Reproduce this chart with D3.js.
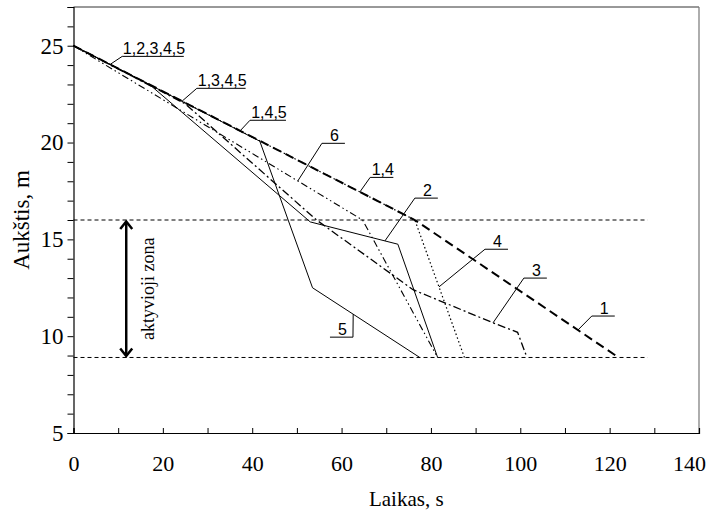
<!DOCTYPE html>
<html>
<head>
<meta charset="utf-8">
<script src="https://cdn.jsdelivr.net/npm/d3@7"></script>
<style>
  body { margin: 0; background: #fff; }
  svg { display: block; }
  .serif { font-family: "Liberation Serif", "Times New Roman", Times, "DejaVu Serif", serif; }
  .sans { font-family: "Liberation Sans", Arial, Helvetica, sans-serif; }
</style>
</head>
<body>
<div id="chart"></div>
<script>
// series: [time s, height m]
const line1 = [[0, 25], [76.4, 16.0], [122, 8.9]]
const line2 = [[0, 25], [17, 23.0], [53, 15.9], [72.6, 14.75], [81.5, 8.9]]
const line3 = [[0, 25], [25, 22.0], [54.4, 16.0], [76, 12.4], [93.8, 10.7], [99.4, 10.2], [101.5, 8.9]]
const line4 = [[0, 25], [76.4, 16.0], [87.5, 8.9]]
const line5 = [[0, 25], [41.7, 20.07], [53.5, 12.5], [77.5, 8.9]]
const line6 = [[0, 25], [64.7, 16.0], [81.5, 8.9]]

// active zone limits
const zoneTop = 16
const zoneBottom = 8.9
const zoneEnd = 128.5

const xTicks = [0, 10, 20, 30, 40, 50, 60, 70, 80, 90, 100, 110, 120, 130, 140]
const yTicks = [5, 6, 7, 8, 9, 10, 11, 12, 13, 14, 15, 16, 17, 18, 19, 20, 21, 22, 23, 24, 25, 26, 27]

// label text, series it points to, time of the tip, underline start (t, h)
const labelText = ['1,2,3,4,5', '1,3,4,5', '1,4,5', '6', '1,4', '2', '5', '4', '3', '1']
const labelSeries = [line1, line1, line1, line6, line1, line2, line5, line4, line3, line1]
const labelTipT = [8.2, 24.3, 37.3, 50.2, 64.1, 69.7, 62.6, 81.8, 93.9, 112.9]
const labelLineT = [10.9, 27.6, 39.5, 55.6, 66.4, 76.4, 57.4, 92.1, 100.8, 116.0]
const labelLineH = [24.45, 22.8, 21.15, 19.96, 18.2, 17.13, 9.95, 14.49, 13.0, 11.04]

const width = 714, height = 513

const svg = d3.select('#chart').append('svg')
    .attr('width', width)
    .attr('height', height)

//scales
const x = d3.scaleLinear().domain([0, 140]).range([73.5, 699])
const y = d3.scaleLinear().domain([5, 27]).range([433, 7])

//frame top + right
svg.append('line')
    .attr('x1', x(0)).attr('x2', x(140))
    .attr('y1', y(27)).attr('y2', y(27))
    .style('stroke', '#333').style('stroke-width', 1)
svg.append('line')
    .attr('x1', x(140)).attr('x2', x(140))
    .attr('y1', y(27)).attr('y2', y(5))
    .style('stroke', '#777').style('stroke-width', 1.2)

//x axis, ticks inward
const xAxis = d3.axisBottom(x)
    .tickValues(xTicks)
    .tickSize(-5)
    .tickPadding(22)
    .tickFormat(d => d % 20 === 0 ? d : '')
const gx = svg.append('g')
    .attr('transform', `translate(0,${y(5)})`)
    .call(xAxis)
    .attr('font-family', null)
gx.selectAll('text')
    .attr('class', 'serif')
    .style('font-size', '22px')
    .attr('fill', '#000')
    .attr('dx', d => d === 140 ? -10 : 0)

//y axis, ticks outward
const yAxis = d3.axisLeft(y)
    .tickValues(yTicks)
    .tickSize(6)
    .tickPadding(4)
    .tickFormat(d => d % 5 === 0 ? d : '')
const gy = svg.append('g')
    .attr('transform', `translate(${x(0)},0)`)
    .call(yAxis)
    .attr('font-family', null)
gy.selectAll('text')
    .attr('class', 'serif')
    .style('font-size', '23px')
    .attr('fill', '#000')

svg.selectAll('.domain').style('stroke', '#000').style('stroke-width', 1.2)
svg.selectAll('.tick line').style('stroke', '#000')

//axis titles
svg.append('text')
    .text('Laikas, s')
    .attr('class', 'serif')
    .attr('x', (x(0) + x(140)) / 2 + 20)
    .attr('y', 506)
    .attr('text-anchor', 'middle')
    .style('font-size', '21px')

svg.append('text')
    .text('Aukštis, m')
    .attr('class', 'serif')
    .attr('transform', `translate(29,${(y(5) + y(27)) / 2}) rotate(-90)`)
    .attr('text-anchor', 'middle')
    .style('font-size', '23px')

//active zone dashed lines
;[zoneTop, zoneBottom].forEach(h => {
    svg.append('line')
        .attr('x1', x(0)).attr('x2', x(zoneEnd))
        .attr('y1', y(h)).attr('y2', y(h))
        .style('stroke', '#000')
        .style('stroke-width', 1)
        .style('stroke-dasharray', '4,3')
})

//double arrow
const arrowT = 11.8
svg.append('line')
    .attr('x1', x(arrowT)).attr('x2', x(arrowT))
    .attr('y1', y(zoneTop) + 2).attr('y2', y(zoneBottom) - 2)
    .style('stroke', '#000').style('stroke-width', 2.5)
svg.append('path')
    .attr('d', `M${x(arrowT) - 6},${y(zoneTop) + 9} L${x(arrowT)},${y(zoneTop) + 1.5} L${x(arrowT) + 6},${y(zoneTop) + 9}`)
    .style('fill', 'none').style('stroke', '#000').style('stroke-width', 2.5)
svg.append('path')
    .attr('d', `M${x(arrowT) - 6},${y(zoneBottom) - 9} L${x(arrowT)},${y(zoneBottom) - 1.5} L${x(arrowT) + 6},${y(zoneBottom) - 9}`)
    .style('fill', 'none').style('stroke', '#000').style('stroke-width', 2.5)

svg.append('text')
    .text('aktyvioji zona')
    .attr('class', 'serif')
    .attr('transform', `translate(154,${(y(zoneTop) + y(zoneBottom)) / 2}) rotate(-90)`)
    .attr('text-anchor', 'middle')
    .style('font-size', '18px')

//series lines
const line = d3.line().x(d => x(d[0])).y(d => y(d[1]))
const series = [
    { data: line6, dash: '7,3,1.5,3,1.5,3', w: 1.1 },
    { data: line3, dash: '8,3,2,3', w: 1.3 },
    { data: line2, dash: null, w: 1 },
    { data: line5, dash: null, w: 1 },
    { data: line4, dash: '1.5,2.5', w: 1.2 },
    { data: line1, dash: '9,5', w: 2 }
]
svg.selectAll('.series')
    .data(series)
    .enter()
    .append('path')
    .attr('class', 'series')
    .attr('d', d => line(d.data))
    .style('fill', 'none')
    .style('stroke', '#000')
    .style('stroke-width', d => d.w)
    .style('stroke-dasharray', d => d.dash)

//height on a series at time t
function heightAt(data, t) {
    for (let i = 1; i < data.length; i++) {
        if (t <= data[i][0]) {
            const a = data[i - 1], b = data[i]
            return a[1] + (b[1] - a[1]) * (t - a[0]) / (b[0] - a[0])
        }
    }
    return data[data.length - 1][1]
}

//labels with leaders
labelText.forEach((txt, i) => {
    const tipX = x(labelTipT[i])
    const tipY = y(heightAt(labelSeries[i], labelTipT[i]))
    const ux = x(labelLineT[i])
    const uy = y(labelLineH[i])
    const w = txt.length > 2 ? txt.length * 6.4 + 4 : 23
    // leader goes from the underline end nearest the tip
    const lx = tipX > ux ? ux + w : ux
    svg.append('line')
        .attr('x1', ux).attr('x2', ux + w)
        .attr('y1', uy).attr('y2', uy)
        .style('stroke', '#000').style('stroke-width', 1)
    svg.append('line')
        .attr('x1', lx).attr('x2', tipX)
        .attr('y1', uy).attr('y2', tipY)
        .style('stroke', '#000').style('stroke-width', 1)
    svg.append('text')
        .text(txt)
        .attr('class', 'sans')
        .attr('x', ux + w / 2 + 1)
        .attr('y', uy - 2)
        .attr('text-anchor', 'middle')
        .style('font-size', '16px')
})
</script>
</body>
</html>
